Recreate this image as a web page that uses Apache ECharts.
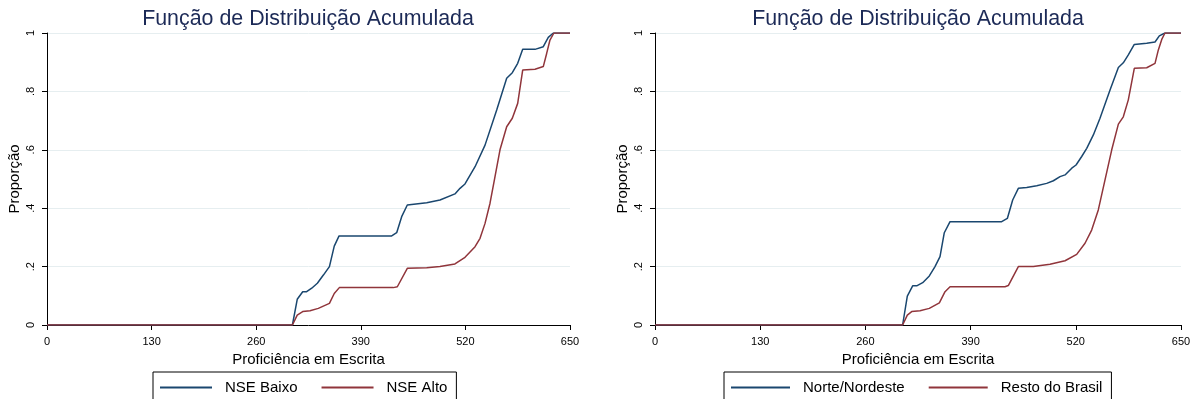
<!DOCTYPE html>
<html>
<head>
<meta charset="utf-8">
<script src="https://cdn.jsdelivr.net/npm/echarts@6/dist/echarts.min.js"></script>
<style>
html,body{margin:0;padding:0;background:#fff;}
#chart{width:1197px;height:399px;}
</style>
</head>
<body>
<div id="chart"></div>
<script>
const chartTitle = 'Função de Distribuição Acumulada';
const xAxisName = 'Proficiência em Escrita';
const yAxisName = 'Proporção';
const xTicks = [0, 130, 260, 390, 520, 650];
const yTicks = [0, 0.2, 0.4, 0.6, 0.8, 1];
const leftNames = ['NSE Baixo', 'NSE Alto'];
const rightNames = ['Norte/Nordeste', 'Resto do Brasil'];

const nseBaixo = [[0,0],[305,0],[311,0.088],[317.8,0.114],[322.7,0.114],[329,0.126],[336,0.143],[343.5,0.171],[351,0.2],[357,0.27],[363,0.305],[428.4,0.305],[434.6,0.316],[440.8,0.371],[447.8,0.411],[471.9,0.419],[488.4,0.428],[507,0.449],[513.3,0.468],[519.5,0.483],[532,0.542],[544.4,0.616],[558.9,0.736],[571.3,0.845],[578.3,0.864],[585,0.896],[591.2,0.944],[606.5,0.944],[616.8,0.953],[623,0.985],[629.3,1],[650,1]];
const nseAlto = [[0,0],[305,0],[311,0.034],[317.8,0.046],[326.9,0.049],[337.2,0.057],[351,0.074],[357,0.108],[363.3,0.128],[430.4,0.128],[435.4,0.131],[447.8,0.194],[471.9,0.196],[488.4,0.2],[507,0.209],[519.5,0.232],[532,0.268],[538.2,0.297],[544.4,0.348],[550.6,0.417],[556.8,0.508],[563,0.6],[571.3,0.679],[578.3,0.708],[585,0.759],[591.2,0.873],[606.5,0.876],[616.8,0.885],[621,0.93],[625.1,0.976],[630,1],[650,1]];
const norteNordeste = [[0,0],[306,0],[311.8,0.099],[318.4,0.134],[323.4,0.134],[330.8,0.145],[339,0.168],[346,0.2],[352.2,0.234],[357.5,0.316],[364.6,0.354],[428.4,0.354],[435.4,0.365],[442,0.428],[449,0.468],[459.3,0.471],[471.7,0.477],[484,0.485],[492.3,0.494],[500.5,0.508],[506.7,0.514],[515,0.537],[520.3,0.548],[527.3,0.577],[533.5,0.605],[541.7,0.651],[549.9,0.708],[562.3,0.805],[572.6,0.882],[578.7,0.898],[584.9,0.925],[592.3,0.961],[607.6,0.965],[617.9,0.969],[623.2,0.99],[630.2,1],[650,1]];
const restoBrasil = [[0,0],[306,0],[311.8,0.034],[317.2,0.046],[327.5,0.049],[339,0.057],[351.4,0.076],[358.4,0.114],[364.6,0.131],[432.5,0.131],[436.6,0.135],[449,0.2],[467.5,0.2],[488.1,0.208],[506.7,0.22],[521.1,0.242],[531.4,0.28],[539.6,0.325],[547.8,0.394],[556.1,0.497],[564.4,0.6],[572.6,0.688],[578.7,0.713],[584.9,0.771],[592.3,0.879],[607.6,0.881],[617.9,0.896],[622,0.942],[626.2,0.978],[630.2,1],[650,1]];

const FONT = '"Liberation Sans", Arial, sans-serif';
const BLUE = '#1a476f';
const RED = '#90353b';
const TITLE_COLOR = '#1c2a57';

function yFmt(v) {
  if (Math.abs(v) < 1e-9) return '0';
  if (Math.abs(v - 1) < 1e-9) return '1';
  return v.toFixed(1).replace(/^0/, '');
}

function makeX(gridIndex) {
  return {
    type: 'value', gridIndex: gridIndex,
    min: xTicks[0], max: xTicks[xTicks.length - 1], interval: xTicks[1] - xTicks[0],
    name: xAxisName, nameLocation: 'middle', nameGap: 23,
    nameTextStyle: { fontFamily: FONT, fontSize: 15, color: '#000' },
    axisLine: { show: true, onZero: false, lineStyle: { color: '#000', width: 1 } },
    axisTick: { show: true, inside: false, length: 5, lineStyle: { color: '#000' } },
    axisLabel: { fontFamily: FONT, fontSize: 11, color: '#000', margin: 11 },
    splitLine: { show: false }
  };
}
function makeY(gridIndex) {
  return {
    type: 'value', gridIndex: gridIndex,
    min: yTicks[0], max: yTicks[yTicks.length - 1], interval: 0.2,
    name: yAxisName, nameLocation: 'middle', nameGap: 25,
    nameTextStyle: { fontFamily: FONT, fontSize: 15, color: '#000' },
    axisLine: { show: true, onZero: false, lineStyle: { color: '#000', width: 1 } },
    axisTick: { show: true, inside: false, length: 5, lineStyle: { color: '#000' } },
    axisLabel: { fontFamily: FONT, fontSize: 11, color: '#000', rotate: 90, margin: 11, formatter: yFmt },
    splitLine: { show: true, lineStyle: { color: '#e6eef0', width: 1 } }
  };
}
function makeSeries(name, data, idx, color) {
  return {
    type: 'line', name: name, data: data, xAxisIndex: idx, yAxisIndex: idx,
    showSymbol: false, symbol: 'none', smooth: false, animation: false,
    lineStyle: { color: color, width: 1.5 }, itemStyle: { color: color }
  };
}
function makeLegend(names, left, itemWidth) {
  return {
    data: names, left: left, top: 372, orient: 'horizontal',
    icon: 'rect', itemWidth: itemWidth, itemHeight: 2, itemGap: 24,
    borderColor: '#000', borderWidth: 1, padding: [8, 9, 12, 7],
    textStyle: { fontFamily: FONT, fontSize: 15, color: '#000', padding: [0, 0, 0, 8] }
  };
}

const chart = echarts.init(document.getElementById('chart'), null, { renderer: 'canvas' });
chart.setOption({
  backgroundColor: '#fff',
  animation: false,
  title: [
    { text: chartTitle, left: 308, top: 9, textAlign: 'center', padding: 0,
      textStyle: { fontFamily: FONT, fontSize: 21.4, fontWeight: 'normal', color: TITLE_COLOR } },
    { text: chartTitle, left: 918, top: 9, textAlign: 'center', padding: 0,
      textStyle: { fontFamily: FONT, fontSize: 21.4, fontWeight: 'normal', color: TITLE_COLOR } }
  ],
  grid: [
    { left: 47, top: 33, width: 523, height: 292 },
    { left: 655, top: 33, width: 526, height: 292 }
  ],
  xAxis: [makeX(0), makeX(1)],
  yAxis: [makeY(0), makeY(1)],
  legend: [makeLegend(leftNames, 153, 52), makeLegend(rightNames, 724, 59)],
  series: [
    makeSeries(leftNames[0], nseBaixo, 0, BLUE),
    makeSeries(leftNames[1], nseAlto, 0, RED),
    makeSeries(rightNames[0], norteNordeste, 1, BLUE),
    makeSeries(rightNames[1], restoBrasil, 1, RED)
  ]
});
</script>
</body>
</html>
